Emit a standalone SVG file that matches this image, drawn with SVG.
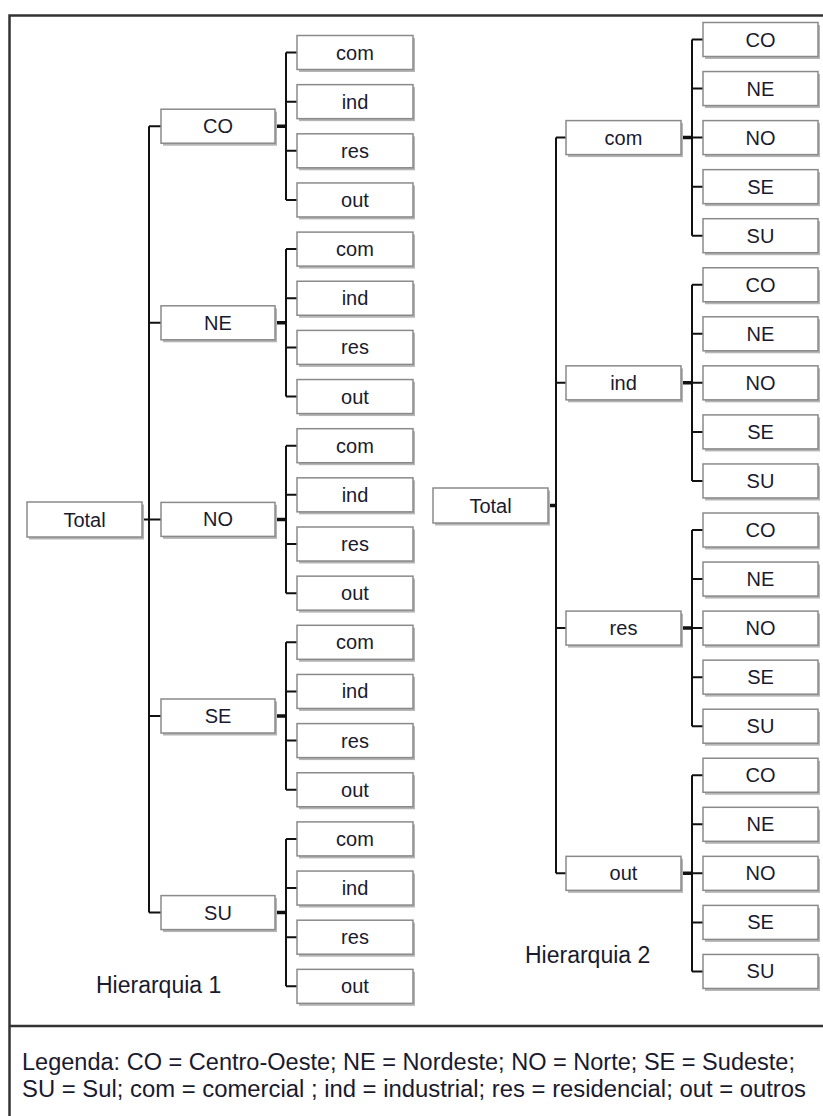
<svg xmlns="http://www.w3.org/2000/svg" width="823" height="1116" viewBox="0 0 823 1116">
<style>
.box{fill:#ffffff;stroke:#8a8a8a;stroke-width:1.5}
.sh{fill:#b5b5b5}
.t{font-family:"Liberation Sans",Arial,sans-serif;font-size:20px;fill:#1a1a2e;text-anchor:middle}
.lbl{font-family:"Liberation Sans",Arial,sans-serif;font-size:23px;fill:#1a1a2e}
.c{stroke:#111;stroke-width:2;fill:none}
.ct{stroke:#111;stroke-width:3.5;fill:none}
.frame{stroke:#333;stroke-width:2.5;fill:none}
</style>
<defs>
<g id="leafL"><rect class="sh" x="2" y="2.5" width="116" height="34"/><rect class="box" x="0" y="0" width="116" height="34"/></g>
<g id="leafR"><rect class="sh" x="2" y="2.5" width="115" height="34"/><rect class="box" x="0" y="0" width="115" height="34"/></g>
</defs>
<rect x="0" y="0" width="823" height="1116" fill="#ffffff"/>
<g id="frame">
<rect class="frame" x="9.5" y="15.5" width="830" height="1120"/>
<line class="frame" x1="9" y1="1026" x2="823" y2="1026"/>
</g>
<g id="connectors">
<path class="c" d="M142 519.4H149M149 126.2V912.6M149 126.2H161M149 322.8H161M149 519.4H161M149 716H161M149 912.6H161"/>
<path class="c" d="M286 52.5V200M286 52.5H297M286 101.65H297M286 150.8H297M286 199.95H297"/>
<path class="c" d="M286 249.1V396.55M286 249.1H297M286 298.25H297M286 347.4H297M286 396.55H297"/>
<path class="c" d="M286 445.7V593.15M286 445.7H297M286 494.85H297M286 544H297M286 593.15H297"/>
<path class="c" d="M286 642.3V789.75M286 642.3H297M286 691.45H297M286 740.6H297M286 789.75H297"/>
<path class="c" d="M286 838.9V986.35M286 838.9H297M286 888.05H297M286 937.2H297M286 986.35H297"/>
<path class="ct" d="M275 126.2H286M275 322.8H286M275 519.4H286M275 716H286M275 912.6H286"/>
<path class="ct" d="M548 505.5H556"/>
<path class="c" d="M556 137.6V873.35M556 137.6H566M556 382.85H566M556 628.1H566M556 873.35H566"/>
<path class="c" d="M692 39.5V235.7M692 39.5H703M692 88.55H703M692 137.6H703M692 186.65H703M692 235.7H703"/>
<path class="c" d="M692 284.75V480.95M692 284.75H703M692 333.8H703M692 382.85H703M692 431.9H703M692 480.95H703"/>
<path class="c" d="M692 530V726.2M692 530H703M692 579.05H703M692 628.1H703M692 677.15H703M692 726.2H703"/>
<path class="c" d="M692 775.25V971.45M692 775.25H703M692 824.3H703M692 873.35H703M692 922.4H703M692 971.45H703"/>
<path class="ct" d="M681 137.6H692M681 382.85H692M681 628.1H692M681 873.35H692"/>
</g>
<g id="h1-total"><rect class="sh" x="29" y="504.5" width="115" height="35"/><rect class="box" x="27" y="502" width="115" height="35"/><text class="t" x="84.5" y="526.5">Total</text></g>
<g id="h1-CO"><rect class="sh" x="163" y="111.7" width="114" height="34"/><rect class="box" x="161" y="109.2" width="114" height="34"/><text class="t" x="218" y="133.2">CO</text></g>
<g id="h1-NE"><rect class="sh" x="163" y="308.3" width="114" height="34"/><rect class="box" x="161" y="305.8" width="114" height="34"/><text class="t" x="218" y="329.8">NE</text></g>
<g id="h1-NO"><rect class="sh" x="163" y="504.9" width="114" height="34"/><rect class="box" x="161" y="502.4" width="114" height="34"/><text class="t" x="218" y="526.4">NO</text></g>
<g id="h1-SE"><rect class="sh" x="163" y="701.5" width="114" height="34"/><rect class="box" x="161" y="699" width="114" height="34"/><text class="t" x="218" y="723">SE</text></g>
<g id="h1-SU"><rect class="sh" x="163" y="898.1" width="114" height="34"/><rect class="box" x="161" y="895.6" width="114" height="34"/><text class="t" x="218" y="919.6">SU</text></g>
<g id="h1-CO-com"><use href="#leafL" x="297" y="35.5"/><text class="t" x="355" y="59.5">com</text></g>
<g id="h1-CO-ind"><use href="#leafL" x="297" y="84.65"/><text class="t" x="355" y="108.65">ind</text></g>
<g id="h1-CO-res"><use href="#leafL" x="297" y="133.8"/><text class="t" x="355" y="157.8">res</text></g>
<g id="h1-CO-out"><use href="#leafL" x="297" y="182.95"/><text class="t" x="355" y="206.95">out</text></g>
<g id="h1-NE-com"><use href="#leafL" x="297" y="232.1"/><text class="t" x="355" y="256.1">com</text></g>
<g id="h1-NE-ind"><use href="#leafL" x="297" y="281.25"/><text class="t" x="355" y="305.25">ind</text></g>
<g id="h1-NE-res"><use href="#leafL" x="297" y="330.4"/><text class="t" x="355" y="354.4">res</text></g>
<g id="h1-NE-out"><use href="#leafL" x="297" y="379.55"/><text class="t" x="355" y="403.55">out</text></g>
<g id="h1-NO-com"><use href="#leafL" x="297" y="428.7"/><text class="t" x="355" y="452.7">com</text></g>
<g id="h1-NO-ind"><use href="#leafL" x="297" y="477.85"/><text class="t" x="355" y="501.85">ind</text></g>
<g id="h1-NO-res"><use href="#leafL" x="297" y="527"/><text class="t" x="355" y="551">res</text></g>
<g id="h1-NO-out"><use href="#leafL" x="297" y="576.15"/><text class="t" x="355" y="600.15">out</text></g>
<g id="h1-SE-com"><use href="#leafL" x="297" y="625.3"/><text class="t" x="355" y="649.3">com</text></g>
<g id="h1-SE-ind"><use href="#leafL" x="297" y="674.45"/><text class="t" x="355" y="698.45">ind</text></g>
<g id="h1-SE-res"><use href="#leafL" x="297" y="723.6"/><text class="t" x="355" y="747.6">res</text></g>
<g id="h1-SE-out"><use href="#leafL" x="297" y="772.75"/><text class="t" x="355" y="796.75">out</text></g>
<g id="h1-SU-com"><use href="#leafL" x="297" y="821.9"/><text class="t" x="355" y="845.9">com</text></g>
<g id="h1-SU-ind"><use href="#leafL" x="297" y="871.05"/><text class="t" x="355" y="895.05">ind</text></g>
<g id="h1-SU-res"><use href="#leafL" x="297" y="920.2"/><text class="t" x="355" y="944.2">res</text></g>
<g id="h1-SU-out"><use href="#leafL" x="297" y="969.35"/><text class="t" x="355" y="993.35">out</text></g>
<g id="h2-total"><rect class="sh" x="435" y="490.5" width="115" height="35"/><rect class="box" x="433" y="488" width="115" height="35"/><text class="t" x="490.5" y="512.5">Total</text></g>
<g id="h2-com"><rect class="sh" x="568" y="123.1" width="115" height="34"/><rect class="box" x="566" y="120.6" width="115" height="34"/><text class="t" x="623.5" y="144.6">com</text></g>
<g id="h2-ind"><rect class="sh" x="568" y="368.35" width="115" height="34"/><rect class="box" x="566" y="365.85" width="115" height="34"/><text class="t" x="623.5" y="389.85">ind</text></g>
<g id="h2-res"><rect class="sh" x="568" y="613.6" width="115" height="34"/><rect class="box" x="566" y="611.1" width="115" height="34"/><text class="t" x="623.5" y="635.1">res</text></g>
<g id="h2-out"><rect class="sh" x="568" y="858.85" width="115" height="34"/><rect class="box" x="566" y="856.35" width="115" height="34"/><text class="t" x="623.5" y="880.35">out</text></g>
<g id="h2-com-CO"><use href="#leafR" x="703" y="22.5"/><text class="t" x="760.5" y="46.5">CO</text></g>
<g id="h2-com-NE"><use href="#leafR" x="703" y="71.55"/><text class="t" x="760.5" y="95.55">NE</text></g>
<g id="h2-com-NO"><use href="#leafR" x="703" y="120.6"/><text class="t" x="760.5" y="144.6">NO</text></g>
<g id="h2-com-SE"><use href="#leafR" x="703" y="169.65"/><text class="t" x="760.5" y="193.65">SE</text></g>
<g id="h2-com-SU"><use href="#leafR" x="703" y="218.7"/><text class="t" x="760.5" y="242.7">SU</text></g>
<g id="h2-ind-CO"><use href="#leafR" x="703" y="267.75"/><text class="t" x="760.5" y="291.75">CO</text></g>
<g id="h2-ind-NE"><use href="#leafR" x="703" y="316.8"/><text class="t" x="760.5" y="340.8">NE</text></g>
<g id="h2-ind-NO"><use href="#leafR" x="703" y="365.85"/><text class="t" x="760.5" y="389.85">NO</text></g>
<g id="h2-ind-SE"><use href="#leafR" x="703" y="414.9"/><text class="t" x="760.5" y="438.9">SE</text></g>
<g id="h2-ind-SU"><use href="#leafR" x="703" y="463.95"/><text class="t" x="760.5" y="487.95">SU</text></g>
<g id="h2-res-CO"><use href="#leafR" x="703" y="513"/><text class="t" x="760.5" y="537">CO</text></g>
<g id="h2-res-NE"><use href="#leafR" x="703" y="562.05"/><text class="t" x="760.5" y="586.05">NE</text></g>
<g id="h2-res-NO"><use href="#leafR" x="703" y="611.1"/><text class="t" x="760.5" y="635.1">NO</text></g>
<g id="h2-res-SE"><use href="#leafR" x="703" y="660.15"/><text class="t" x="760.5" y="684.15">SE</text></g>
<g id="h2-res-SU"><use href="#leafR" x="703" y="709.2"/><text class="t" x="760.5" y="733.2">SU</text></g>
<g id="h2-out-CO"><use href="#leafR" x="703" y="758.25"/><text class="t" x="760.5" y="782.25">CO</text></g>
<g id="h2-out-NE"><use href="#leafR" x="703" y="807.3"/><text class="t" x="760.5" y="831.3">NE</text></g>
<g id="h2-out-NO"><use href="#leafR" x="703" y="856.35"/><text class="t" x="760.5" y="880.35">NO</text></g>
<g id="h2-out-SE"><use href="#leafR" x="703" y="905.4"/><text class="t" x="760.5" y="929.4">SE</text></g>
<g id="h2-out-SU"><use href="#leafR" x="703" y="954.45"/><text class="t" x="760.5" y="978.45">SU</text></g>
<g id="labels">
<text class="lbl" x="96" y="993">Hierarquia 1</text>
<text class="lbl" x="525" y="963">Hierarquia 2</text>
</g>
<g id="legend">
<text class="lbl" x="22" y="1070" textLength="773" lengthAdjust="spacingAndGlyphs">Legenda: CO = Centro-Oeste; NE = Nordeste; NO = Norte; SE = Sudeste;</text>
<text class="lbl" x="22" y="1097" textLength="784" lengthAdjust="spacingAndGlyphs">SU = Sul; com = comercial ; ind = industrial; res = residencial; out = outros</text>
</g>
</svg>
